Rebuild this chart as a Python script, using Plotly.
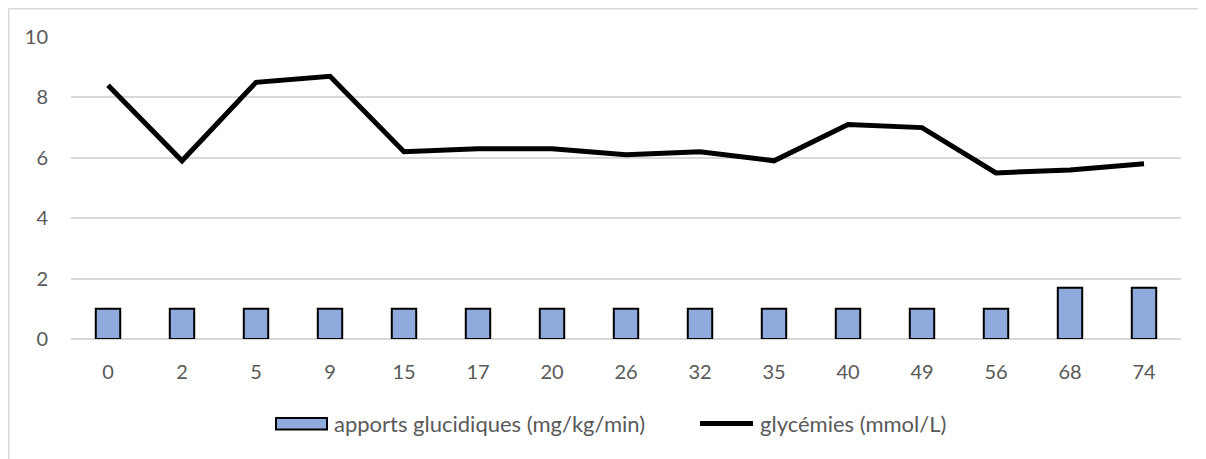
import plotly.graph_objects as go

categories = ["0", "2", "5", "9", "15", "17", "20", "26", "32", "35", "40", "49", "56", "68", "74"]
apports = [1, 1, 1, 1, 1, 1, 1, 1, 1, 1, 1, 1, 1, 1.7, 1.7]
glycemies = [8.4, 5.9, 8.5, 8.7, 6.2, 6.3, 6.3, 6.1, 6.2, 5.9, 7.1, 7.0, 5.5, 5.6, 5.8]
series_names = ["apports glucidiques (mg/kg/min)", "glycémies (mmol/L)"]

font_family = "Lato, Open Sans, sans-serif"
gray = "#595959"
bar_color = "#8faadc"
grid = "#d9d9d9"

# layout geometry (page pixels; the page body adds an 8px offset)
OFF = 8
ML, MT, PW, PH = 63, 29, 1110, 302
W, H = 1198, 451


def px_x(X):
    return (X - OFF - ML) / PW


def px_y(Y):
    return (OFF + MT + PH - Y) / PH


fig = go.Figure()
fig.add_trace(go.Bar(
    x=categories, y=apports, name=series_names[0],
    marker=dict(color=bar_color, line=dict(color="black", width=2)),
    width=0.33, showlegend=False,
))
fig.add_trace(go.Scatter(
    x=categories, y=glycemies, name=series_names[1],
    mode="lines", line=dict(color="black", width=5), showlegend=False,
))

shapes = [
    # chart border (left and top)
    dict(type="line", xref="paper", yref="paper", x0=px_x(8.5), x1=px_x(8.5), y0=px_y(8.5), y1=px_y(470),
         line=dict(color=grid, width=2)),
    dict(type="line", xref="paper", yref="paper", x0=px_x(8.5), x1=px_x(1220), y0=px_y(8.5), y1=px_y(8.5),
         line=dict(color=grid, width=2)),
    # legend symbols
    dict(type="rect", xref="paper", yref="paper", x0=px_x(276), x1=px_x(327), y0=px_y(418), y1=px_y(429.5),
         fillcolor=bar_color, line=dict(color="black", width=2)),
    dict(type="line", xref="paper", yref="paper", x0=px_x(700), x1=px_x(753), y0=px_y(423.5), y1=px_y(423.5),
         line=dict(color="black", width=5)),
]
annotations = [
    dict(xref="paper", yref="paper", x=px_x(332), y=px_y(423.5), xanchor="left", yanchor="middle",
         text=series_names[0], showarrow=False, font=dict(family=font_family, size=22, color=gray)),
    dict(xref="paper", yref="paper", x=px_x(758), y=px_y(423.5), xanchor="left", yanchor="middle",
         text=series_names[1], showarrow=False, font=dict(family=font_family, size=22, color=gray)),
]

fig.update_layout(
    width=W, height=H,
    margin=dict(l=ML, r=W - ML - PW, t=MT, b=H - MT - PH),
    paper_bgcolor="white", plot_bgcolor="white",
    font=dict(family=font_family, size=20, color=gray),
    showlegend=False,
    bargap=0.67,
    xaxis=dict(type="category", showgrid=False, showline=False, zeroline=False,
               ticks="outside", ticklen=15, tickcolor="rgba(0,0,0,0)",
               tickfont=dict(size=20, color=gray)),
    yaxis=dict(range=[0, 10], dtick=2, showgrid=True, gridcolor=grid, gridwidth=1.5,
               zeroline=True, zerolinecolor=grid, zerolinewidth=1.5,
               showline=False, ticks="", ticklabelstandoff=22,
               tickfont=dict(size=20, color=gray)),
    shapes=shapes,
    annotations=annotations,
)

fig.write_html("out.html")
